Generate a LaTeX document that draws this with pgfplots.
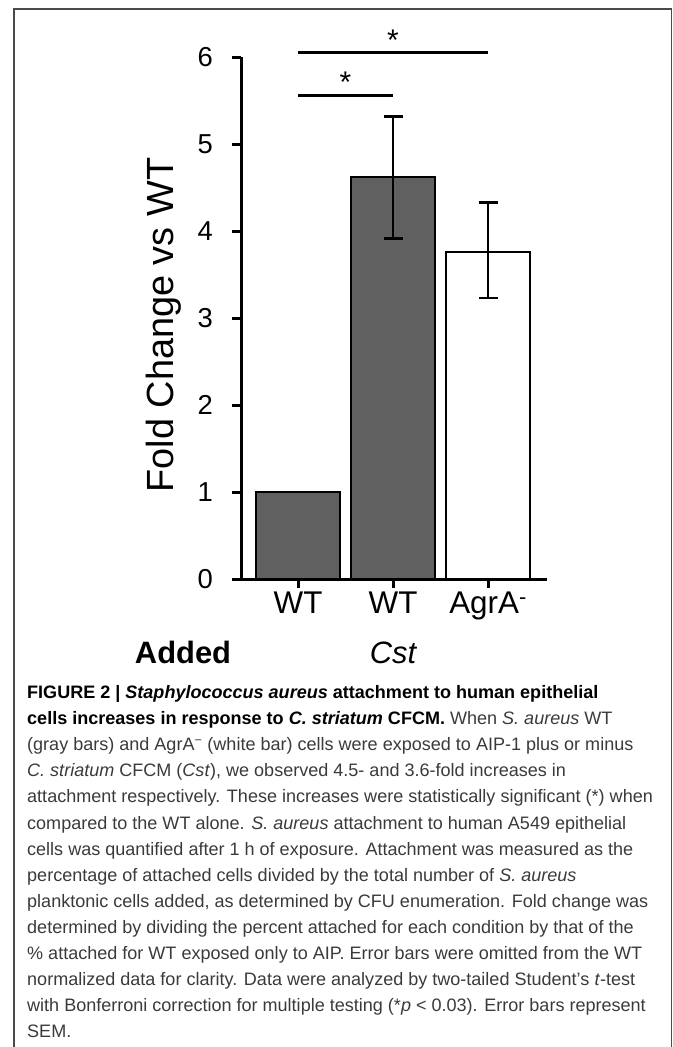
\documentclass[border=0pt]{standalone}
\usepackage{fontspec}
\setmainfont{Liberation Sans}
\usepackage{pgfplots}
\pgfplotsset{compat=1.18}
\definecolor{barg}{HTML}{606060}
\definecolor{framec}{HTML}{4A4A4A}
\definecolor{captxt}{HTML}{3A3A3A}
\newcommand\capline[2]{\node[anchor=base west, inner sep=0pt, font=\fontsize{18.1}{20}\selectfont, text=captxt] at (27bp,-#1bp) {#2};}
\begin{document}
\begin{tikzpicture}
\path[use as bounding box] (0,0) rectangle (673bp,-1047bp);
\draw[framec, line width=1.6bp] (14bp,-1047bp) -- (14bp,-9bp) -- (671.5bp,-9bp) -- (671.5bp,-1047bp);
\begin{axis}[at={(241bp,-579bp)}, anchor=south west, scale only axis,
  width=306bp, height=522bp,
  xmin=-0.6, xmax=2.62, ymin=0, ymax=6, clip=false,
  axis x line*=bottom, axis y line*=left,
  axis line style={line width=3bp, -},
  ytick={0,1,2,3,4,5,6}, xtick={0,1,2},
  xticklabels={WT,WT,AgrA\textsuperscript{-}},
  tick align=outside, major tick length=9bp,
  tick style={line width=3bp, black},
  /pgf/number format/assume math mode=true,
  yticklabel style={font=\fontsize{27.5}{27.5}\selectfont, inner sep=0pt, anchor=east, xshift=-19bp},
  xticklabel style={font=\fontsize{31.5}{31.5}\selectfont, inner sep=0pt, anchor=base, yshift=-25bp},
]
\addplot[ybar, bar width=84bp, bar shift=0pt, fill=barg, draw=black, line width=2.7bp]
  coordinates {(0,1)};
\addplot[ybar, bar width=84bp, bar shift=0pt, fill=barg, draw=black, line width=2.7bp,
  error bars/.cd, y dir=both, y explicit,
  error bar style={line width=2.7bp, black},
  error mark options={rotate=90, mark size=9.5bp, line width=2.7bp, black}]
  coordinates {(1,4.62) += (0,0.70) -= (0,0.71)};
\addplot[ybar, bar width=84bp, bar shift=0pt, fill=white, draw=black, line width=2.7bp,
  error bars/.cd, y dir=both, y explicit,
  error bar style={line width=2.7bp, black},
  error mark options={rotate=90, mark size=9.5bp, line width=2.7bp, black}]
  coordinates {(2,3.76) += (0,0.57) -= (0,0.53)};
\addplot[black, line width=3bp, mark=none] coordinates {(0,6.05) (2,6.05)};
\addplot[black, line width=3bp, mark=none] coordinates {(0,5.56) (1,5.56)};
\node[anchor=base, inner sep=0pt, font=\fontsize{30}{30}\selectfont] at (axis cs:1,6.076) {*};
\node[anchor=base, inner sep=0pt, font=\fontsize{30}{30}\selectfont] at (axis cs:0.5,5.593) {*};
\end{axis}
\node[rotate=90, anchor=base, inner sep=0pt, font=\fontsize{38}{38}\selectfont] at (173bp,-325bp) {Fold Change vs WT};
\node[anchor=base, inner sep=0pt, font=\bfseries\fontsize{31}{31}\selectfont] at (183bp,-663bp) {Added};
\node[anchor=base, inner sep=0pt, font=\itshape\fontsize{31}{31}\selectfont] at (393bp,-663bp) {Cst};
\capline{698.5}{\textcolor{black}{\bfseries FIGURE 2 | \textit{Staphylococcus aureus} attachment to human epithelial}}
\capline{724.6}{\textcolor{black}{\bfseries cells increases in response to \textit{C. striatum} CFCM.} When \textit{S. aureus} WT}
\capline{750.7}{(gray bars) and AgrA\textsuperscript{−} (white bar) cells were exposed to AIP-1 plus or minus}
\capline{776.8}{\textit{C. striatum} CFCM (\textit{Cst}), we observed 4.5- and 3.6-fold increases in}
\capline{802.9}{attachment respectively. These increases were statistically significant (*) when}
\capline{829.0}{compared to the WT alone. \textit{S. aureus} attachment to human A549 epithelial}
\capline{855.1}{cells was quantified after 1 h of exposure. Attachment was measured as the}
\capline{881.2}{percentage of attached cells divided by the total number of \textit{S. aureus}}
\capline{907.3}{planktonic cells added, as determined by CFU enumeration. Fold change was}
\capline{933.4}{determined by dividing the percent attached for each condition by that of the}
\capline{959.5}{\% attached for WT exposed only to AIP. Error bars were omitted from the WT}
\capline{985.6}{normalized data for clarity. Data were analyzed by two-tailed Student’s \textit{t}-test}
\capline{1011.7}{with Bonferroni correction for multiple testing (*\textit{p} < 0.03). Error bars represent}
\capline{1037.8}{SEM.}
\end{tikzpicture}
\end{document}
